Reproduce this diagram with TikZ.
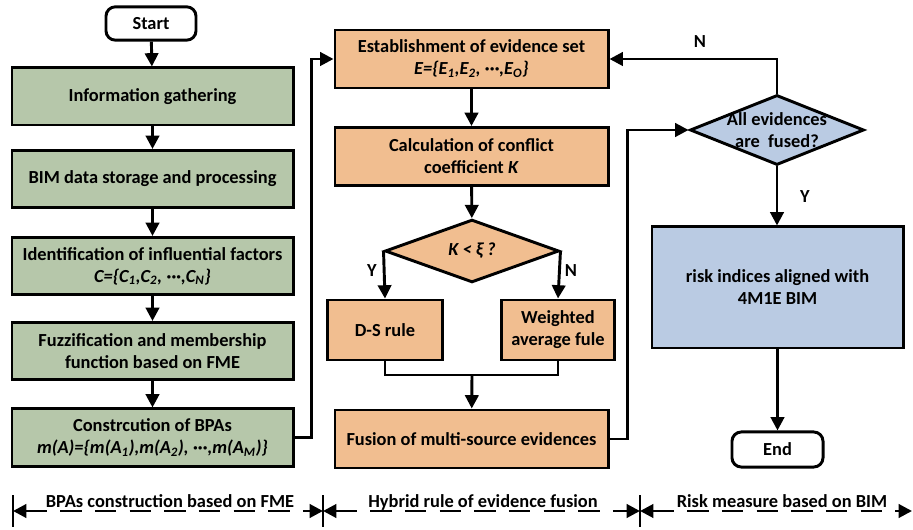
\documentclass[tikz,border=0pt]{standalone}
\usepackage{fontspec}
\setmainfont{Carlito}
\usetikzlibrary{arrows.meta,calc,positioning,shapes.geometric}
\definecolor{rkink}{HTML}{000000}
\definecolor{rkgreen}{HTML}{B6C7AA}
\definecolor{rkorange}{HTML}{F1BE90}
\definecolor{rkblue}{HTML}{BACBE3}
\tikzset{
  rk text/.style={font=\fontsize{13.8}{16.5}\selectfont\bfseries, text=rkink},
  rk box/.style={draw=rkink, line width=2.2pt, align=center, inner sep=2pt, rk text},
  rk green/.style={rk box, fill=rkgreen, minimum width=210.8pt, minimum height=42.8pt},
  rk orange/.style={rk box, fill=rkorange, minimum width=204.8pt, minimum height=43.5pt},
  rk blue/.style={rk box, fill=rkblue},
  rk term/.style={rk box, fill=white, rounded corners=7pt, minimum height=25pt},
  rk decision/.style={rk box, diamond, inner sep=0pt, minimum width=130.5pt},
  rk arrow/.style={-{Triangle[length=10pt,width=10pt]}, line width=2.2pt, draw=rkink},
  rk line/.style={line width=2.2pt, draw=rkink},
  rk span/.style={{Triangle[length=10pt,width=10pt]}-{Triangle[length=10pt,width=10pt]},
    line width=2.2pt, draw=rkink, dash pattern=on 16pt off 10pt},
  rk tick/.style={line width=2.2pt, draw=rkink},
  rk label/.style={rk text, inner sep=1pt}
}

\begin{document}
\begin{tikzpicture}[rk text, x=0.75pt, y=-0.75pt]
  \useasboundingbox (0,0) rectangle (913,530);
  % left column
  \node[rk term, minimum width=67.5pt] (start) at (151,23.5) {Start};
  \node[rk green] (info) at (152.5,96.5) {Information gathering};
  \node[rk green] (bim) at (152.5,179) {BIM data storage and processing};
  \node[rk green] (ident) at (152.5,266) {Identification of influential factors\\
    \textit{C=\{C\textsubscript{1},C\textsubscript{2}, ···,C\textsubscript{N}\}}};
  \node[rk green] (fuzz) at (152.5,351) {Fuzzification and membership\\function based on FME};
  \node[rk green] (bpa) at (152.5,437.5) {Constrcution of BPAs\\
    \textit{m(A)=\{m(A\textsubscript{1}),m(A\textsubscript{2}), ···,m(A\textsubscript{M})\}}};
  \draw[rk arrow] (start)--(info);
  \draw[rk arrow] (info)--(bim);
  \draw[rk arrow] (bim)--(ident);
  \draw[rk arrow] (ident)--(fuzz);
  \draw[rk arrow] (fuzz)--(bpa);
  % middle column
  \node[rk orange] (est) at (471.5,59) {Establishment of evidence set\\
    \textit{E=\{E\textsubscript{1},E\textsubscript{2}, ···,E\textsubscript{O}\}}};
  \node[rk orange] (conf) at (471.5,156.5) {Calculation of conflict\\coefficient \textit{K}};
  \node[rk decision, fill=rkorange, minimum height=43.5pt] (kxi) at (472,251) {\textit{K < ξ ?}};
  \node[rk box, fill=rkorange, minimum width=86.3pt, minimum height=45pt] (ds) at (385,330) {D-S rule};
  \node[rk box, fill=rkorange, minimum width=84.8pt, minimum height=45pt] (wavg) at (558,330) {Weighted\\average fule};
  \node[rk orange] (fuse) at (471.5,439) {Fusion of multi-source evidences};
  \coordinate (merge) at (472,375);
  \draw[rk arrow] (bpa.east) -- ++(17,0) |- (est.west);
  \draw[rk arrow] (est)--(conf);
  \draw[rk arrow] (conf)--(kxi);
  \draw[rk arrow] (kxi.west) -- (ds.north);
  \draw[rk arrow] (kxi.east) -- (wavg.north);
  \node[rk label] (yes1) at (372,271) {Y};
  \node[rk label] (no1) at (571,271) {N};
  \draw[rk line] (ds.south) |- (merge) -| (wavg.south);
  \draw[rk arrow] (merge) -- (fuse);
  % right column
  \node[rk decision, draw=rkink, fill=rkblue, minimum height=52.5pt,
    label={[rk text, align=center, inner sep=0pt]center:All evidences\\are\ \ fused?}] (fused) at (777,130) {};
  \node[rk blue, minimum width=188.3pt, minimum height=90.8pt] (risk) at (777.5,287.5)
    {risk indices aligned with\\4M1E BIM};
  \node[rk term, minimum width=68.3pt, minimum height=26.3pt] (end) at (777.5,449.5) {End};
  \draw[rk arrow] (fuse.east) -- ++(18,0) |- (fused.west);
  \draw[rk arrow] (fused.north) |- (est.east);
  \draw[rk arrow] (fused.south) -- (fused.south |- risk.north);
  \draw[rk arrow] (risk.south -| end.north) -- (end.north);
  \node[rk label] (no2) at (700,42) {N};
  \node[rk label] (yes2) at (805,197) {Y};
  % stage spans
  \coordinate (s0) at (13,511);
  \coordinate (s1) at (323,511);
  \coordinate (s2) at (640,511);
  \coordinate (s3) at (912,511);
  \foreach \c in {s0,s1,s2}
    \draw[rk tick] ($(\c)+(0,-16)$) -- ($(\c)+(0,16)$);
  \draw[rk span] (s0) -- (s1);
  \draw[rk span] (s1) -- (s2);
  \draw[rk span] (s2) -- (s3);
  \node[rk label, anchor=base] (stage1) at (170,507) {BPAs construction based on FME};
  \node[rk label, anchor=base] (stage2) at (483,507) {Hybrid rule of evidence fusion};
  \node[rk label, anchor=base] (stage3) at (782,507) {Risk measure based on BIM};
\end{tikzpicture}
\end{document}
